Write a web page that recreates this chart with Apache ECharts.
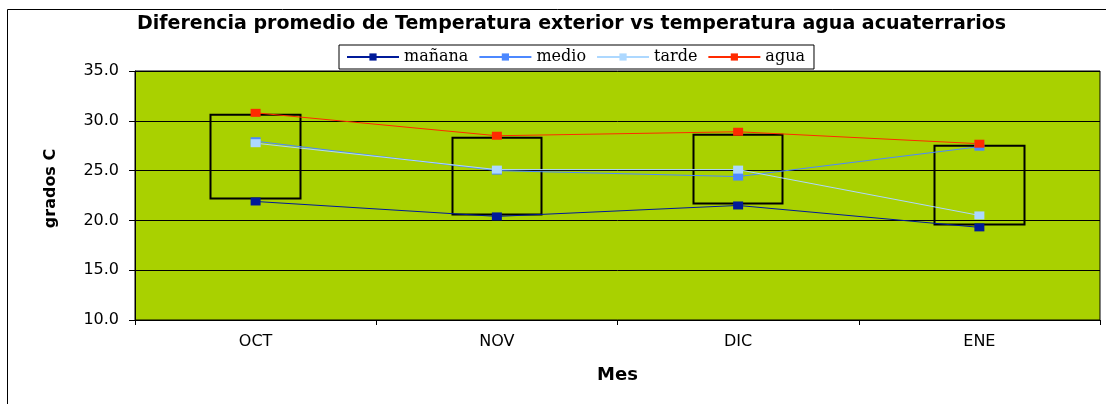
<!DOCTYPE html>
<html>
<head>
<meta charset="utf-8">
<script src="https://cdn.jsdelivr.net/npm/echarts@6/dist/echarts.min.js"></script>
<style>html,body{margin:0;padding:0;background:#fff;}#c{width:1106px;height:404px;}</style>
</head>
<body>
<div id="c"></div>
<script>
const categories = ['OCT', 'NOV', 'DIC', 'ENE'];
const manana = [21.9, 20.4, 21.5, 19.3];
const medio = [27.95, 25.0, 24.4, 27.4];
const tarde = [27.75, 25.1, 25.1, 20.5];
const agua = [30.8, 28.5, 28.9, 27.7];
const boxLow = [22.2, 20.6, 21.7, 19.6];
const boxHigh = [30.6, 28.3, 28.6, 27.5];
const yTicks = { min: 10, max: 35, interval: 5 };

const chart = echarts.init(document.getElementById('c'), null, { renderer: 'canvas' });

function lineSeries(name, data, color) {
  return {
    name: name, type: 'line', data: data, z: 3,
    symbol: 'rect', symbolSize: [10, 8],
    itemStyle: { color: color },
    lineStyle: { color: color, width: 1 },
    emphasis: { disabled: true }, animation: false
  };
}

chart.setOption({
  animation: false,
  backgroundColor: '#fff',
  title: {
    text: 'Diferencia promedio de Temperatura exterior vs temperatura agua acuaterrarios',
    left: 132, top: 10,
    textStyle: { fontFamily: 'DejaVu Sans', fontWeight: 'bold', fontSize: 19, color: '#000' }
  },
  legend: {
    data: ['mañana', 'medio', 'tarde', 'agua'],
    left: 339, top: 45,
    padding: [4, 9, 4, 7],
    itemWidth: 52, itemHeight: 9, itemGap: 10,
    backgroundColor: '#fff', borderColor: '#000', borderWidth: 1,
    textStyle: { fontFamily: 'DejaVu Serif', fontSize: 16, color: '#000' }
  },
  graphic: [{
    type: 'rect', silent: true, z: -1,
    shape: { x: 7.5, y: 9.5, width: 1200, height: 500 },
    style: { fill: 'none', stroke: '#000', lineWidth: 1 }
  }],
  grid: {
    left: 135, right: 6, top: 71, bottom: 84,
    show: true, backgroundColor: '#A9D100', borderColor: '#000', borderWidth: 1
  },
  xAxis: {
    type: 'category', data: categories, boundaryGap: true,
    name: 'Mes', nameLocation: 'middle', nameGap: 46,
    nameTextStyle: { fontFamily: 'DejaVu Sans', fontWeight: 'bold', fontSize: 18, color: '#000' },
    axisLine: { lineStyle: { color: '#000', width: 1 } },
    axisTick: { show: true, length: 5, lineStyle: { color: '#000' } },
    axisLabel: { margin: 14, fontFamily: 'DejaVu Sans', fontSize: 16, color: '#000' },
    splitLine: { show: false }
  },
  yAxis: {
    type: 'value', min: yTicks.min, max: yTicks.max, interval: yTicks.interval,
    name: 'grados C', nameLocation: 'middle', nameGap: 76, nameRotate: 90,
    nameTextStyle: { fontFamily: 'DejaVu Sans', fontWeight: 'bold', fontSize: 16, color: '#000', padding: [0, 0, 0, 14] },
    axisLine: { show: true, lineStyle: { color: '#000', width: 1 } },
    axisTick: { show: true, length: 6, lineStyle: { color: '#000' } },
    axisLabel: { margin: 16, fontFamily: 'DejaVu Sans', fontSize: 16, color: '#000',
      formatter: function (v) { return v.toFixed(1); } },
    splitLine: { show: true, lineStyle: { color: '#000', width: 1 } }
  },
  series: [
    {
      name: 'box', type: 'candlestick', z: 2, barWidth: 90, silent: true,
      data: categories.map(function (c, i) { return [boxLow[i], boxHigh[i], boxLow[i], boxHigh[i]]; }),
      itemStyle: { color: 'rgba(0,0,0,0)', color0: 'rgba(0,0,0,0)', borderColor: '#000', borderColor0: '#000', borderWidth: 2 },
      emphasis: { disabled: true }
    },
    lineSeries('mañana', manana, '#001A99'),
    lineSeries('medio', medio, '#4C88FF'),
    lineSeries('tarde', tarde, '#ADD8FF'),
    lineSeries('agua', agua, '#FF2A00')
  ]
});
</script>
</body>
</html>
